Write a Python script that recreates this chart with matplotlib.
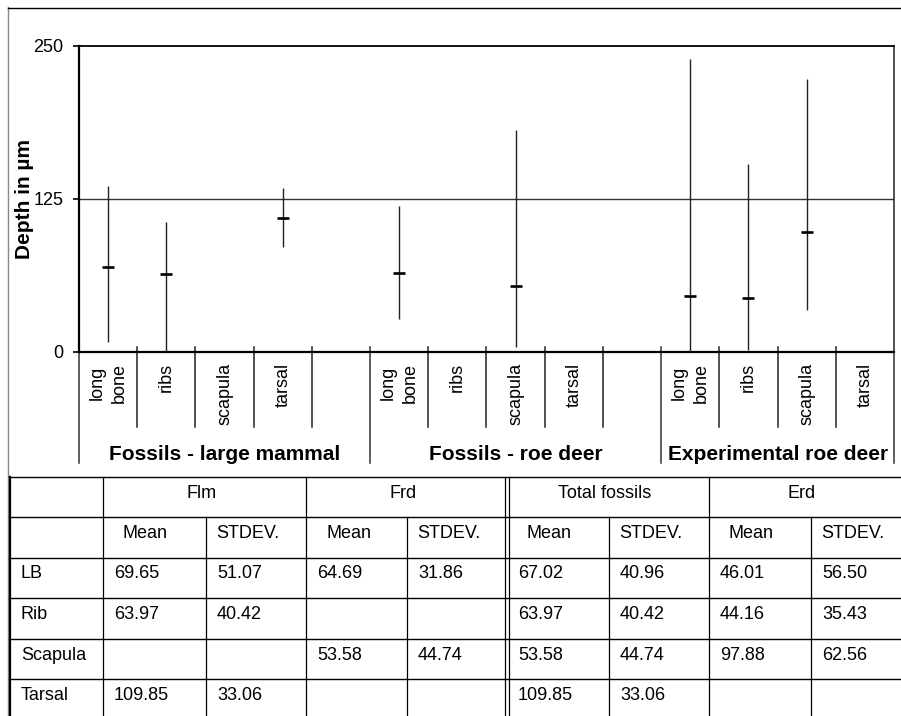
import matplotlib
matplotlib.use('Agg')
import matplotlib.pyplot as plt
import matplotlib.transforms as mtransforms

plt.rcParams['font.family'] = ['Liberation Sans', 'DejaVu Sans']

# ---------------- data ----------------
groups = ['Fossils - large mammal', 'Fossils - roe deer', 'Experimental roe deer']
bones = ['long\nbone', 'ribs', 'scapula', 'tarsal']

# mean and min/max range per bone (None = no data)
flm_mean = [69.65, 63.97, None, 109.85]
flm_low = [8, 0, None, 86]
flm_high = [136, 106, None, 134]

frd_mean = [64.69, None, 53.58, None]
frd_low = [27, None, 4, None]
frd_high = [119, None, 181, None]

erd_mean = [46.01, 44.16, 97.88, None]
erd_low = [0, 2, 34, None]
erd_high = [239, 154, 223, None]

yticks = [0, 125, 250]

table_groups = ['Flm', 'Frd', 'Total fossils', 'Erd']
table_sub = ['Mean', 'STDEV.']
row_labels = ['LB', 'Rib', 'Scapula', 'Tarsal']
table_values = [
    ['69.65', '51.07', '64.69', '31.86', '67.02', '40.96', '46.01', '56.50'],
    ['63.97', '40.42', '', '', '63.97', '40.42', '44.16', '35.43'],
    ['', '', '53.58', '44.74', '53.58', '44.74', '97.88', '62.56'],
    ['109.85', '33.06', '', '', '109.85', '33.06', '', ''],
]

# ---------------- layout ----------------
W, H = 901, 716
fig = plt.figure(figsize=(W / 100, H / 100), dpi=100)


def px_rect(x0, y0, x1, y1):
    return [x0 / W, 1 - y1 / H, (x1 - x0) / W, (y1 - y0) / H]


AX_L, AX_T, AX_R, AX_B = 79, 46, 894, 352
ax = fig.add_axes(px_rect(AX_L, AX_T, AX_R, AX_B))
axh = AX_B - AX_T
axw = AX_R - AX_L

# slots: each group has its bones + one blank slot (last group has no blank)
group_data = [(flm_mean, flm_low, flm_high),
              (frd_mean, frd_low, frd_high),
              (erd_mean, erd_low, erd_high)]
slot_labels = []
group_bounds = []
slot = 0
for gi, g in enumerate(groups):
    start = slot
    for b in bones:
        slot_labels.append(b)
        slot += 1
    if gi < len(groups) - 1:
        slot_labels.append('')
        slot += 1
    group_bounds.append((start, slot))
nslots = len(slot_labels)

ax.set_xlim(0, nslots)
ax.set_ylim(0, 250)

ecol = '#222222'
for gi, (means, lows, highs) in enumerate(group_data):
    start = group_bounds[gi][0]
    for bi, m in enumerate(means):
        if m is None:
            continue
        x = start + bi + 0.5
        ax.vlines(x, lows[bi], highs[bi], color=ecol, lw=1.0, zorder=3)
        ax.plot([x], [m], marker='_', ms=8, mew=1.9, color='black',
                ls='none', zorder=4)

# grid line and y axis
ax.axhline(125, color='#333333', lw=1.0, zorder=1)
ax.set_yticks(yticks)
ax.set_yticklabels([str(t) for t in yticks], fontsize=13)
ax.tick_params(axis='y', length=4, width=1.2, pad=7, color='black')
ax.set_xticks([])
ax.spines['left'].set_linewidth(1.6)
ax.spines['bottom'].set_linewidth(1.6)
ax.spines['top'].set_linewidth(1.3)
ax.spines['right'].set_linewidth(1.1)
ax.spines['right'].set_color('#222222')

ax.text((24 - AX_L) / axw, 0.5, 'Depth in µm', transform=ax.transAxes,
        rotation=90, ha='center', va='center', fontsize=15,
        fontweight='bold')

# category dividers and labels
trans = mtransforms.blended_transform_factory(ax.transData, ax.transAxes)
up = 5 / axh
inner_bot = -(427 - AX_B) / axh
group_bot = -(463 - AX_B) / axh
group_edges = sorted(set([b for gb in group_bounds for b in gb]))
for s in range(0, nslots + 1):
    if s in group_edges:
        y0 = up if 0 < s < nslots else 0
        ax.plot([s, s], [y0, group_bot], transform=trans, clip_on=False,
                color='#333333', lw=1.1)
    else:
        ax.plot([s, s], [up, inner_bot], transform=trans, clip_on=False,
                color='#222222', lw=1.1)

lab_y = -(363 - AX_B) / axh
for i, lab in enumerate(slot_labels):
    if lab:
        ax.text(i + 0.5, lab_y, lab, transform=trans, rotation=90,
                ha='center', va='top', fontsize=13, multialignment='center',
                linespacing=1.35)

grp_y = -(455 - AX_B) / axh
for (s0, s1), g in zip(group_bounds, groups):
    ax.text((s0 + s1) / 2, grp_y, g, transform=trans, ha='center',
            va='center', fontsize=15, fontweight='bold')

# ---------------- overlay: outer frame + table ----------------
ov = fig.add_axes([0, 0, 1, 1])
ov.set_xlim(0, W)
ov.set_ylim(H, 0)
ov.axis('off')

# outer chart frame
ov.plot([8, 8], [7, H], color='#888888', lw=1.0)
ov.plot([8, W], [7.5, 7.5], color='black', lw=1.0)

col_edges = [9, 103, 206, 306, 407, 507, 609, 709, 811, W]
row_edges = [477, 517, 558, 598, 639, 679, 720]

for y in row_edges[:-1]:
    ov.plot([9, W], [y, y], color='black', lw=1.0)

ov.plot([9.8, 9.8], [row_edges[0], H], color='black', lw=1.6)
for ri in range(len(row_edges) - 1):
    ya, yb = row_edges[ri], row_edges[ri + 1]
    for ci in range(1, len(col_edges) - 1):
        if ri == 0 and ci % 2 == 0:
            continue
        x = col_edges[ci]
        if ci == 5:
            ov.plot([x - 1.8, x - 1.8], [ya, yb], color='black', lw=0.9)
            ov.plot([x + 1.8, x + 1.8], [ya, yb], color='black', lw=0.9)
        else:
            ov.plot([x, x], [ya, yb], color='black', lw=0.9)

fs_t = 13
# header row 1
for gi, tg in enumerate(table_groups):
    xa, xb = col_edges[1 + 2 * gi], col_edges[3 + 2 * gi]
    yc = (row_edges[0] + row_edges[1]) / 2 - 4
    ov.text((xa + xb) / 2 - 3, yc, tg, ha='center', va='center', fontsize=fs_t)
# header row 2
for ci in range(8):
    xa = col_edges[1 + ci]
    sub = table_sub[ci % 2]
    pad = 20 if sub == 'Mean' else 10
    yc = (row_edges[1] + row_edges[2]) / 2 - 4
    ov.text(xa + pad, yc, sub, ha='left', va='center', fontsize=fs_t)
# data rows
for ri, (rl, vals) in enumerate(zip(row_labels, table_values)):
    yc = (row_edges[2 + ri] + row_edges[3 + ri]) / 2 - 4
    ov.text(col_edges[0] + 12, yc, rl, ha='left', va='center', fontsize=fs_t)
    for ci, v in enumerate(vals):
        if v:
            ov.text(col_edges[1 + ci] + 11, yc, v, ha='left', va='center',
                    fontsize=fs_t)

fig.savefig('out.png', dpi=100)
